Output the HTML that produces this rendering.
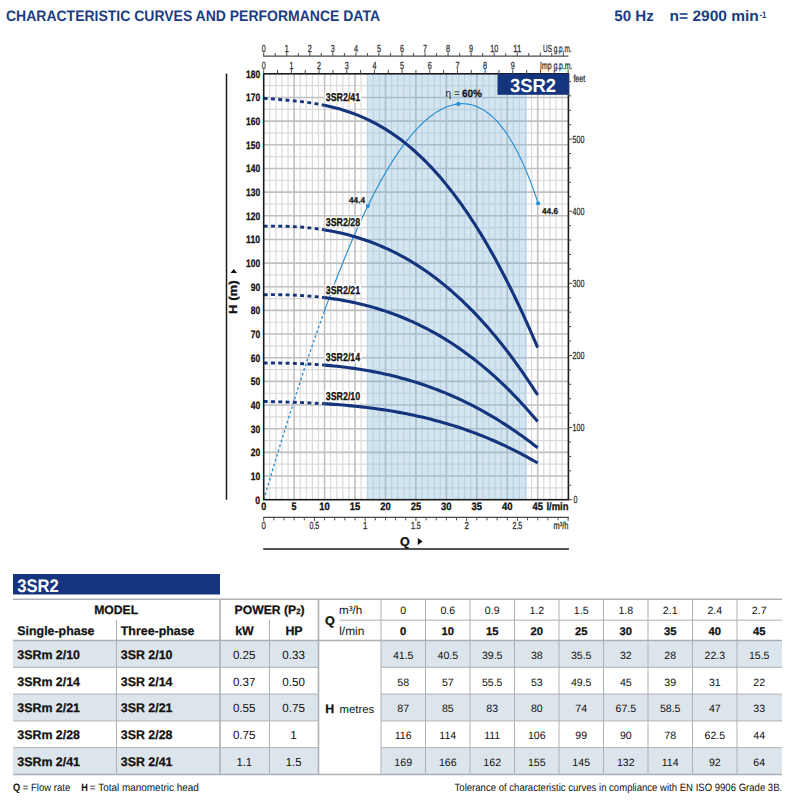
<!DOCTYPE html>
<html><head><meta charset="utf-8"><title>3SR2</title>
<style>html,body{margin:0;padding:0;background:#fff;width:800px;height:800px;overflow:hidden}</style></head>
<body>
<svg width="800" height="800" viewBox="0 0 800 800" style="position:absolute;left:0;top:0;font-family:'Liberation Sans',sans-serif;text-rendering:geometricPrecision">
<text x="6" y="21.3" font-size="15.1" font-weight="bold" fill="#1b3d80" textLength="374" lengthAdjust="spacingAndGlyphs">CHARACTERISTIC CURVES AND PERFORMANCE DATA</text>
<text x="614.3" y="21.3" font-size="15.1" font-weight="bold" fill="#1b3d80" textLength="39.5" lengthAdjust="spacingAndGlyphs">50 Hz</text>
<text x="669.6" y="21.3" font-size="15.1" font-weight="bold" fill="#1b3d80" textLength="89.2" lengthAdjust="spacingAndGlyphs">n= 2900 min</text>
<text transform="translate(759.4,18.1) scale(0.8,1)" font-size="9.6" font-weight="bold" fill="#1b3d80">-1</text>
<rect x="263.7" y="73.8" width="304.7" height="425.9" fill="#fff"/>
<rect x="367.21" y="73.8" width="159.53" height="425.9" fill="#d3e5f1"/>
<path d="M269.79,73.8V499.7M275.88,73.8V499.7M281.97,73.8V499.7M288.06,73.8V499.7M300.23,73.8V499.7M306.32,73.8V499.7M312.41,73.8V499.7M318.50,73.8V499.7M330.68,73.8V499.7M336.77,73.8V499.7M342.86,73.8V499.7M348.94,73.8V499.7M361.12,73.8V499.7M367.21,73.8V499.7M373.30,73.8V499.7M379.39,73.8V499.7M391.57,73.8V499.7M397.66,73.8V499.7M403.74,73.8V499.7M409.83,73.8V499.7M422.01,73.8V499.7M428.10,73.8V499.7M434.19,73.8V499.7M440.28,73.8V499.7M452.46,73.8V499.7M458.54,73.8V499.7M464.63,73.8V499.7M470.72,73.8V499.7M482.90,73.8V499.7M488.99,73.8V499.7M495.08,73.8V499.7M501.17,73.8V499.7M513.34,73.8V499.7M519.43,73.8V499.7M525.52,73.8V499.7M531.61,73.8V499.7M543.79,73.8V499.7M549.88,73.8V499.7M555.97,73.8V499.7M562.06,73.8V499.7M263.7,487.87H568.4M263.7,464.21H568.4M263.7,440.55H568.4M263.7,416.89H568.4M263.7,393.23H568.4M263.7,369.56H568.4M263.7,345.90H568.4M263.7,322.24H568.4M263.7,298.58H568.4M263.7,274.92H568.4M263.7,251.26H568.4M263.7,227.60H568.4M263.7,203.94H568.4M263.7,180.27H568.4M263.7,156.61H568.4M263.7,132.95H568.4M263.7,109.29H568.4M263.7,85.63H568.4" stroke="#dadada" stroke-width="1.2" fill="none"/>
<path d="M294.14,73.8V499.7M324.59,73.8V499.7M355.03,73.8V499.7M385.48,73.8V499.7M415.92,73.8V499.7M446.37,73.8V499.7M476.81,73.8V499.7M507.26,73.8V499.7M537.70,73.8V499.7M263.7,476.04H568.4M263.7,452.38H568.4M263.7,428.72H568.4M263.7,405.06H568.4M263.7,381.39H568.4M263.7,357.73H568.4M263.7,334.07H568.4M263.7,310.41H568.4M263.7,286.75H568.4M263.7,263.09H568.4M263.7,239.43H568.4M263.7,215.77H568.4M263.7,192.11H568.4M263.7,168.44H568.4M263.7,144.78H568.4M263.7,121.12H568.4M263.7,97.46H568.4" stroke="#c0c0c0" stroke-width="1.6" fill="none"/>
<clipPath id="shc"><rect x="367.21" y="73.8" width="159.53" height="425.9"/></clipPath>
<g clip-path="url(#shc)"><rect x="367.21" y="73.8" width="159.53" height="425.9" fill="#d3e5f1"/><path d="M269.79,73.8V499.7M275.88,73.8V499.7M281.97,73.8V499.7M288.06,73.8V499.7M300.23,73.8V499.7M306.32,73.8V499.7M312.41,73.8V499.7M318.50,73.8V499.7M330.68,73.8V499.7M336.77,73.8V499.7M342.86,73.8V499.7M348.94,73.8V499.7M361.12,73.8V499.7M367.21,73.8V499.7M373.30,73.8V499.7M379.39,73.8V499.7M391.57,73.8V499.7M397.66,73.8V499.7M403.74,73.8V499.7M409.83,73.8V499.7M422.01,73.8V499.7M428.10,73.8V499.7M434.19,73.8V499.7M440.28,73.8V499.7M452.46,73.8V499.7M458.54,73.8V499.7M464.63,73.8V499.7M470.72,73.8V499.7M482.90,73.8V499.7M488.99,73.8V499.7M495.08,73.8V499.7M501.17,73.8V499.7M513.34,73.8V499.7M519.43,73.8V499.7M525.52,73.8V499.7M531.61,73.8V499.7M543.79,73.8V499.7M549.88,73.8V499.7M555.97,73.8V499.7M562.06,73.8V499.7M263.7,487.87H568.4M263.7,464.21H568.4M263.7,440.55H568.4M263.7,416.89H568.4M263.7,393.23H568.4M263.7,369.56H568.4M263.7,345.90H568.4M263.7,322.24H568.4M263.7,298.58H568.4M263.7,274.92H568.4M263.7,251.26H568.4M263.7,227.60H568.4M263.7,203.94H568.4M263.7,180.27H568.4M263.7,156.61H568.4M263.7,132.95H568.4M263.7,109.29H568.4M263.7,85.63H568.4" stroke="#bed1de" stroke-width="1.2" fill="none"/><path d="M294.14,73.8V499.7M324.59,73.8V499.7M355.03,73.8V499.7M385.48,73.8V499.7M415.92,73.8V499.7M446.37,73.8V499.7M476.81,73.8V499.7M507.26,73.8V499.7M537.70,73.8V499.7M263.7,476.04H568.4M263.7,452.38H568.4M263.7,428.72H568.4M263.7,405.06H568.4M263.7,381.39H568.4M263.7,357.73H568.4M263.7,334.07H568.4M263.7,310.41H568.4M263.7,286.75H568.4M263.7,263.09H568.4M263.7,239.43H568.4M263.7,215.77H568.4M263.7,192.11H568.4M263.7,168.44H568.4M263.7,144.78H568.4M263.7,121.12H568.4M263.7,97.46H568.4" stroke="#a8bccb" stroke-width="1.6" fill="none"/></g>
<path d="M263.70,499.72 L265.24,494.55 L266.77,489.40 L268.31,484.27 L269.84,479.14 L271.38,474.04 L272.92,468.95 L274.45,463.87 L275.99,458.82 L277.52,453.78 L279.06,448.75 L280.59,443.75 L282.13,438.77 L283.67,433.80 L285.20,428.85 L286.74,423.93 L288.27,419.03 L289.81,414.14 L291.35,409.28 L292.88,404.45 L294.42,399.63 L295.95,394.84 L297.49,390.08 L299.03,385.34 L300.56,380.62 L302.10,375.93 L303.63,371.27 L305.17,366.63 L306.71,362.02 L308.24,357.44 L309.78,352.88 L311.31,348.36 L312.85,343.86 L314.38,339.40 L315.92,334.96 L317.46,330.56 L318.99,326.19 L320.53,321.85 L322.06,317.54 L323.60,313.26" fill="none" stroke="#2b8fd2" stroke-width="1.4" stroke-dasharray="2.6 2.4"/>
<path d="M323.60,313.26 L325.40,308.29 L327.21,303.36 L329.01,298.47 L330.81,293.64 L332.61,288.85 L334.42,284.12 L336.22,279.43 L338.02,274.79 L339.82,270.21 L341.63,265.67 L343.43,261.19 L345.23,256.77 L347.03,252.39 L348.84,248.07 L350.64,243.80 L352.44,239.59 L354.24,235.44 L356.05,231.34 L357.85,227.30 L359.65,223.31 L361.45,219.39 L363.26,215.52 L365.06,211.71 L366.86,207.96 L368.66,204.27 L370.47,200.63 L372.27,197.06 L374.07,193.55 L375.87,190.10 L377.68,186.72 L379.48,183.39 L381.28,180.13 L383.08,176.92 L384.89,173.79 L386.69,170.71 L388.49,167.70 L390.29,164.75 L392.10,161.87 L393.90,159.05 L395.70,156.30 L397.50,153.61 L399.31,150.99 L401.11,148.44 L402.91,145.95 L404.71,143.52 L406.52,141.17 L408.32,138.88 L410.12,136.66 L411.92,134.51 L413.73,132.42 L415.53,130.40 L417.33,128.46 L419.13,126.58 L420.94,124.77 L422.74,123.04 L424.54,121.37 L426.34,119.77 L428.15,118.25 L429.95,116.80 L431.75,115.42 L433.55,114.11 L435.36,112.88 L437.16,111.72 L438.96,110.64 L440.76,109.63 L442.57,108.70 L444.37,107.85 L446.17,107.07 L447.97,106.37 L449.78,105.75 L451.58,105.21 L453.38,104.75 L455.18,104.37 L456.99,104.07 L458.79,103.86 L460.59,103.73 L462.39,103.69 L464.20,103.73 L466.00,103.86 L467.80,104.08 L469.60,104.39 L471.41,104.80 L473.21,105.29 L475.01,105.88 L476.81,106.57 L478.62,107.35 L480.42,108.23 L482.22,109.22 L484.02,110.31 L485.83,111.50 L487.63,112.79 L489.43,114.20 L491.23,115.72 L493.04,117.35 L494.84,119.10 L496.64,120.96 L498.44,122.95 L500.25,125.05 L502.05,127.28 L503.85,129.65 L505.65,132.14 L507.46,134.76 L509.26,137.53 L511.06,140.43 L512.86,143.47 L514.67,146.67 L516.47,150.01 L518.27,153.51 L520.07,157.17 L521.88,160.99 L523.68,164.97 L525.48,169.12 L527.28,173.45 L529.09,177.96 L530.89,182.65 L532.69,187.53 L534.49,192.60 L536.30,197.87 L538.10,203.35" fill="none" stroke="#2b8fd2" stroke-width="1.15"/>
<circle cx="367.8" cy="206.025243675687" r="2.1" fill="#2b8fd2"/>
<circle cx="458.4" cy="103.89738231532486" r="2.1" fill="#2b8fd2"/>
<circle cx="538.1" cy="203.3487956735235" r="2.1" fill="#2b8fd2"/>
<path d="M263.70,401.50 L266.74,401.56 L269.79,401.63 L272.83,401.70 L275.88,401.77 L278.92,401.84 L281.97,401.92 L285.01,402.01 L288.06,402.10 L291.10,402.19 L294.14,402.30 L297.19,402.40 L300.23,402.52 L303.28,402.64 L306.32,402.77 L309.37,402.91 L312.41,403.05 L315.46,403.21 L318.50,403.37 L321.54,403.54 L324.59,403.72" fill="none" stroke="#14347e" stroke-width="2.9" stroke-dasharray="3.9 3.4"/>
<path d="M324.59,403.72 L327.63,403.92 L330.68,404.12 L333.72,404.34 L336.77,404.56 L339.81,404.80 L342.86,405.05 L345.90,405.32 L348.94,405.59 L351.99,405.88 L355.03,406.19 L358.08,406.50 L361.12,406.84 L364.17,407.18 L367.21,407.55 L370.26,407.93 L373.30,408.32 L376.34,408.73 L379.39,409.16 L382.43,409.60 L385.48,410.07 L388.52,410.55 L391.57,411.04 L394.61,411.56 L397.66,412.10 L400.70,412.65 L403.74,413.23 L406.79,413.82 L409.83,414.44 L412.88,415.07 L415.92,415.73 L418.97,416.41 L422.01,417.11 L425.06,417.83 L428.10,418.58 L431.14,419.34 L434.19,420.13 L437.23,420.95 L440.28,421.78 L443.32,422.65 L446.37,423.53 L449.41,424.44 L452.46,425.38 L455.50,426.34 L458.54,427.33 L461.59,428.34 L464.63,429.38 L467.68,430.44 L470.72,431.54 L473.77,432.66 L476.81,433.80 L479.86,434.98 L482.90,436.18 L485.94,437.41 L488.99,438.68 L492.03,439.97 L495.08,441.29 L498.12,442.64 L501.17,444.01 L504.21,445.42 L507.26,446.86 L510.30,448.34 L513.34,449.84 L516.39,451.37 L519.43,452.94 L522.48,454.54 L525.52,456.17 L528.57,457.83 L531.61,459.53 L534.66,461.25 L537.70,463.02" fill="none" stroke="#14347e" stroke-width="3.1" stroke-linejoin="round"/>
<rect x="324.6" y="390.7" width="36.8" height="10.4" fill="#fff"/>
<text x="325.8" y="399.7" font-size="11.3" font-weight="bold" fill="#111" stroke="#111" stroke-width="0.3" textLength="34.4" lengthAdjust="spacingAndGlyphs">3SR2/10</text>
<path d="M263.70,362.93 L266.74,362.94 L269.79,362.95 L272.83,362.97 L275.88,362.99 L278.92,363.03 L281.97,363.08 L285.01,363.14 L288.06,363.21 L291.10,363.29 L294.14,363.39 L297.19,363.49 L300.23,363.61 L303.28,363.75 L306.32,363.89 L309.37,364.06 L312.41,364.23 L315.46,364.43 L318.50,364.63 L321.54,364.86 L324.59,365.10" fill="none" stroke="#14347e" stroke-width="2.9" stroke-dasharray="3.9 3.4"/>
<path d="M324.59,365.10 L327.63,365.36 L330.68,365.64 L333.72,365.93 L336.77,366.24 L339.81,366.58 L342.86,366.93 L345.90,367.30 L348.94,367.69 L351.99,368.11 L355.03,368.54 L358.08,369.00 L361.12,369.47 L364.17,369.98 L367.21,370.50 L370.26,371.05 L373.30,371.62 L376.34,372.21 L379.39,372.83 L382.43,373.47 L385.48,374.14 L388.52,374.84 L391.57,375.56 L394.61,376.30 L397.66,377.08 L400.70,377.88 L403.74,378.71 L406.79,379.57 L409.83,380.45 L412.88,381.37 L415.92,382.31 L418.97,383.28 L422.01,384.28 L425.06,385.32 L428.10,386.38 L431.14,387.48 L434.19,388.60 L437.23,389.76 L440.28,390.95 L443.32,392.17 L446.37,393.42 L449.41,394.71 L452.46,396.03 L455.50,397.38 L458.54,398.77 L461.59,400.19 L464.63,401.65 L467.68,403.14 L470.72,404.67 L473.77,406.23 L476.81,407.83 L479.86,409.47 L482.90,411.14 L485.94,412.84 L488.99,414.59 L492.03,416.37 L495.08,418.19 L498.12,420.05 L501.17,421.95 L504.21,423.88 L507.26,425.86 L510.30,427.87 L513.34,429.92 L516.39,432.01 L519.43,434.15 L522.48,436.32 L525.52,438.53 L528.57,440.79 L531.61,443.08 L534.66,445.42 L537.70,447.79" fill="none" stroke="#14347e" stroke-width="3.1" stroke-linejoin="round"/>
<rect x="324.6" y="352.1" width="36.8" height="10.4" fill="#fff"/>
<text x="325.8" y="361.1" font-size="11.3" font-weight="bold" fill="#111" stroke="#111" stroke-width="0.3" textLength="34.4" lengthAdjust="spacingAndGlyphs">3SR2/14</text>
<path d="M263.70,294.72 L266.74,294.69 L269.79,294.67 L272.83,294.66 L275.88,294.67 L278.92,294.70 L281.97,294.75 L285.01,294.82 L288.06,294.90 L291.10,295.01 L294.14,295.13 L297.19,295.28 L300.23,295.45 L303.28,295.64 L306.32,295.85 L309.37,296.08 L312.41,296.34 L315.46,296.63 L318.50,296.93 L321.54,297.27 L324.59,297.63" fill="none" stroke="#14347e" stroke-width="2.9" stroke-dasharray="3.9 3.4"/>
<path d="M324.59,297.63 L327.63,298.01 L330.68,298.42 L333.72,298.86 L336.77,299.33 L339.81,299.83 L342.86,300.36 L345.90,300.91 L348.94,301.50 L351.99,302.12 L355.03,302.77 L358.08,303.45 L361.12,304.17 L364.17,304.92 L367.21,305.70 L370.26,306.52 L373.30,307.37 L376.34,308.26 L379.39,309.19 L382.43,310.15 L385.48,311.15 L388.52,312.18 L391.57,313.26 L394.61,314.38 L397.66,315.53 L400.70,316.73 L403.74,317.96 L406.79,319.24 L409.83,320.56 L412.88,321.92 L415.92,323.33 L418.97,324.78 L422.01,326.27 L425.06,327.81 L428.10,329.39 L431.14,331.02 L434.19,332.70 L437.23,334.42 L440.28,336.19 L443.32,338.01 L446.37,339.88 L449.41,341.80 L452.46,343.77 L455.50,345.79 L458.54,347.86 L461.59,349.98 L464.63,352.16 L467.68,354.39 L470.72,356.67 L473.77,359.00 L476.81,361.39 L479.86,363.84 L482.90,366.34 L485.94,368.90 L488.99,371.51 L492.03,374.18 L495.08,376.91 L498.12,379.70 L501.17,382.55 L504.21,385.46 L507.26,388.43 L510.30,391.46 L513.34,394.55 L516.39,397.70 L519.43,400.92 L522.48,404.19 L525.52,407.54 L528.57,410.95 L531.61,414.42 L534.66,417.96 L537.70,421.56" fill="none" stroke="#14347e" stroke-width="3.1" stroke-linejoin="round"/>
<rect x="324.6" y="284.6" width="36.8" height="10.4" fill="#fff"/>
<text x="325.8" y="293.6" font-size="11.3" font-weight="bold" fill="#111" stroke="#111" stroke-width="0.3" textLength="34.4" lengthAdjust="spacingAndGlyphs">3SR2/21</text>
<path d="M263.70,226.21 L266.74,226.16 L269.79,226.12 L272.83,226.10 L275.88,226.11 L278.92,226.14 L281.97,226.19 L285.01,226.27 L288.06,226.37 L291.10,226.50 L294.14,226.66 L297.19,226.85 L300.23,227.06 L303.28,227.31 L306.32,227.58 L309.37,227.89 L312.41,228.23 L315.46,228.60 L318.50,229.01 L321.54,229.45 L324.59,229.92" fill="none" stroke="#14347e" stroke-width="2.9" stroke-dasharray="3.9 3.4"/>
<path d="M324.59,229.92 L327.63,230.43 L330.68,230.98 L333.72,231.57 L336.77,232.19 L339.81,232.86 L342.86,233.56 L345.90,234.31 L348.94,235.09 L351.99,235.92 L355.03,236.79 L358.08,237.71 L361.12,238.67 L364.17,239.68 L367.21,240.73 L370.26,241.83 L373.30,242.97 L376.34,244.17 L379.39,245.41 L382.43,246.70 L385.48,248.05 L388.52,249.44 L391.57,250.89 L394.61,252.39 L397.66,253.94 L400.70,255.55 L403.74,257.21 L406.79,258.93 L409.83,260.71 L412.88,262.54 L415.92,264.43 L418.97,266.37 L422.01,268.38 L425.06,270.45 L428.10,272.57 L431.14,274.76 L434.19,277.01 L437.23,279.32 L440.28,281.70 L443.32,284.14 L446.37,286.64 L449.41,289.21 L452.46,291.85 L455.50,294.55 L458.54,297.32 L461.59,300.16 L464.63,303.06 L467.68,306.04 L470.72,309.08 L473.77,312.20 L476.81,315.38 L479.86,318.64 L482.90,321.97 L485.94,325.38 L488.99,328.85 L492.03,332.40 L495.08,336.03 L498.12,339.73 L501.17,343.51 L504.21,347.37 L507.26,351.30 L510.30,355.31 L513.34,359.40 L516.39,363.57 L519.43,367.82 L522.48,372.15 L525.52,376.56 L528.57,381.06 L531.61,385.63 L534.66,390.29 L537.70,395.03" fill="none" stroke="#14347e" stroke-width="3.1" stroke-linejoin="round"/>
<rect x="324.6" y="216.9" width="36.8" height="10.4" fill="#fff"/>
<text x="325.8" y="225.9" font-size="11.3" font-weight="bold" fill="#111" stroke="#111" stroke-width="0.3" textLength="34.4" lengthAdjust="spacingAndGlyphs">3SR2/28</text>
<path d="M263.70,98.28 L266.74,98.52 L269.79,98.75 L272.83,98.98 L275.88,99.22 L278.92,99.46 L281.97,99.70 L285.01,99.96 L288.06,100.23 L291.10,100.51 L294.14,100.82 L297.19,101.14 L300.23,101.48 L303.28,101.85 L306.32,102.25 L309.37,102.68 L312.41,103.14 L315.46,103.63 L318.50,104.16 L321.54,104.73 L324.59,105.34" fill="none" stroke="#14347e" stroke-width="2.9" stroke-dasharray="3.9 3.4"/>
<path d="M324.59,105.34 L327.63,105.99 L330.68,106.69 L333.72,107.43 L336.77,108.22 L339.81,109.07 L342.86,109.97 L345.90,110.92 L348.94,111.93 L351.99,113.00 L355.03,114.13 L358.08,115.33 L361.12,116.58 L364.17,117.91 L367.21,119.30 L370.26,120.77 L373.30,122.30 L376.34,123.91 L379.39,125.60 L382.43,127.36 L385.48,129.20 L388.52,131.12 L391.57,133.12 L394.61,135.20 L397.66,137.37 L400.70,139.62 L403.74,141.96 L406.79,144.39 L409.83,146.91 L412.88,149.52 L415.92,152.23 L418.97,155.03 L422.01,157.92 L425.06,160.91 L428.10,164.00 L431.14,167.18 L434.19,170.47 L437.23,173.85 L440.28,177.34 L443.32,180.93 L446.37,184.63 L449.41,188.43 L452.46,192.34 L455.50,196.35 L458.54,200.47 L461.59,204.70 L464.63,209.04 L467.68,213.49 L470.72,218.05 L473.77,222.72 L476.81,227.51 L479.86,232.41 L482.90,237.42 L485.94,242.55 L488.99,247.79 L492.03,253.14 L495.08,258.62 L498.12,264.21 L501.17,269.91 L504.21,275.74 L507.26,281.68 L510.30,287.74 L513.34,293.92 L516.39,300.22 L519.43,306.63 L522.48,313.17 L525.52,319.83 L528.57,326.60 L531.61,333.50 L534.66,340.52 L537.70,347.66" fill="none" stroke="#14347e" stroke-width="3.1" stroke-linejoin="round"/>
<rect x="324.6" y="92.3" width="36.8" height="10.4" fill="#fff"/>
<text x="325.8" y="101.3" font-size="11.3" font-weight="bold" fill="#111" stroke="#111" stroke-width="0.3" textLength="34.4" lengthAdjust="spacingAndGlyphs">3SR2/41</text>
<rect x="263.7" y="73.8" width="304.7" height="425.9" fill="none" stroke="#1a1a1a" stroke-width="1.6"/>
<rect x="497.5" y="73.8" width="71.69999999999997" height="21" fill="#14347e"/>
<text x="533" y="91.5" font-size="19" font-weight="bold" fill="#fff" text-anchor="middle" textLength="46" lengthAdjust="spacingAndGlyphs">3SR2</text>
<text x="445.6" y="97" font-size="11.3" fill="#222" textLength="14.2" lengthAdjust="spacingAndGlyphs">η =</text>
<text x="462" y="97" font-size="10.5" font-weight="bold" fill="#151515" stroke="#151515" stroke-width="0.25" textLength="20" lengthAdjust="spacingAndGlyphs">60%</text>
<text x="349" y="203.4" font-size="8.5" font-weight="bold" fill="#151515" stroke="#151515" stroke-width="0.25" textLength="16" lengthAdjust="spacingAndGlyphs">44.4</text>
<text x="542" y="214.2" font-size="8.5" font-weight="bold" fill="#151515" stroke="#151515" stroke-width="0.25" textLength="16" lengthAdjust="spacingAndGlyphs">44.6</text>
<text x="255.3" y="503.5" font-size="10.8" font-weight="bold" fill="#111" stroke="#111" stroke-width="0.3" textLength="4.8" lengthAdjust="spacingAndGlyphs">0</text>
<text x="250.70000000000002" y="479.8" font-size="10.8" font-weight="bold" fill="#111" stroke="#111" stroke-width="0.3" textLength="9.4" lengthAdjust="spacingAndGlyphs">10</text>
<text x="250.70000000000002" y="456.2" font-size="10.8" font-weight="bold" fill="#111" stroke="#111" stroke-width="0.3" textLength="9.4" lengthAdjust="spacingAndGlyphs">20</text>
<text x="250.70000000000002" y="432.5" font-size="10.8" font-weight="bold" fill="#111" stroke="#111" stroke-width="0.3" textLength="9.4" lengthAdjust="spacingAndGlyphs">30</text>
<text x="250.70000000000002" y="408.9" font-size="10.8" font-weight="bold" fill="#111" stroke="#111" stroke-width="0.3" textLength="9.4" lengthAdjust="spacingAndGlyphs">40</text>
<text x="250.70000000000002" y="385.2" font-size="10.8" font-weight="bold" fill="#111" stroke="#111" stroke-width="0.3" textLength="9.4" lengthAdjust="spacingAndGlyphs">50</text>
<text x="250.70000000000002" y="361.5" font-size="10.8" font-weight="bold" fill="#111" stroke="#111" stroke-width="0.3" textLength="9.4" lengthAdjust="spacingAndGlyphs">60</text>
<text x="250.70000000000002" y="337.9" font-size="10.8" font-weight="bold" fill="#111" stroke="#111" stroke-width="0.3" textLength="9.4" lengthAdjust="spacingAndGlyphs">70</text>
<text x="250.70000000000002" y="314.2" font-size="10.8" font-weight="bold" fill="#111" stroke="#111" stroke-width="0.3" textLength="9.4" lengthAdjust="spacingAndGlyphs">80</text>
<text x="250.70000000000002" y="290.6" font-size="10.8" font-weight="bold" fill="#111" stroke="#111" stroke-width="0.3" textLength="9.4" lengthAdjust="spacingAndGlyphs">90</text>
<text x="246.10000000000002" y="266.9" font-size="10.8" font-weight="bold" fill="#111" stroke="#111" stroke-width="0.3" textLength="14.0" lengthAdjust="spacingAndGlyphs">100</text>
<text x="246.10000000000002" y="243.2" font-size="10.8" font-weight="bold" fill="#111" stroke="#111" stroke-width="0.3" textLength="14.0" lengthAdjust="spacingAndGlyphs">110</text>
<text x="246.10000000000002" y="219.6" font-size="10.8" font-weight="bold" fill="#111" stroke="#111" stroke-width="0.3" textLength="14.0" lengthAdjust="spacingAndGlyphs">120</text>
<text x="246.10000000000002" y="195.9" font-size="10.8" font-weight="bold" fill="#111" stroke="#111" stroke-width="0.3" textLength="14.0" lengthAdjust="spacingAndGlyphs">130</text>
<text x="246.10000000000002" y="172.2" font-size="10.8" font-weight="bold" fill="#111" stroke="#111" stroke-width="0.3" textLength="14.0" lengthAdjust="spacingAndGlyphs">140</text>
<text x="246.10000000000002" y="148.6" font-size="10.8" font-weight="bold" fill="#111" stroke="#111" stroke-width="0.3" textLength="14.0" lengthAdjust="spacingAndGlyphs">150</text>
<text x="246.10000000000002" y="124.9" font-size="10.8" font-weight="bold" fill="#111" stroke="#111" stroke-width="0.3" textLength="14.0" lengthAdjust="spacingAndGlyphs">160</text>
<text x="246.10000000000002" y="101.3" font-size="10.8" font-weight="bold" fill="#111" stroke="#111" stroke-width="0.3" textLength="14.0" lengthAdjust="spacingAndGlyphs">170</text>
<text x="246.10000000000002" y="77.6" font-size="10.8" font-weight="bold" fill="#111" stroke="#111" stroke-width="0.3" textLength="14.0" lengthAdjust="spacingAndGlyphs">180</text>
<text x="261.2" y="510" font-size="10.8" font-weight="bold" fill="#111" stroke="#111" stroke-width="0.3" textLength="5" lengthAdjust="spacingAndGlyphs">0</text>
<text x="291.6" y="510" font-size="10.8" font-weight="bold" fill="#111" stroke="#111" stroke-width="0.3" textLength="5" lengthAdjust="spacingAndGlyphs">5</text>
<text x="319.3" y="510" font-size="10.8" font-weight="bold" fill="#111" stroke="#111" stroke-width="0.3" textLength="10.5" lengthAdjust="spacingAndGlyphs">10</text>
<text x="349.8" y="510" font-size="10.8" font-weight="bold" fill="#111" stroke="#111" stroke-width="0.3" textLength="10.5" lengthAdjust="spacingAndGlyphs">15</text>
<text x="380.2" y="510" font-size="10.8" font-weight="bold" fill="#111" stroke="#111" stroke-width="0.3" textLength="10.5" lengthAdjust="spacingAndGlyphs">20</text>
<text x="410.7" y="510" font-size="10.8" font-weight="bold" fill="#111" stroke="#111" stroke-width="0.3" textLength="10.5" lengthAdjust="spacingAndGlyphs">25</text>
<text x="441.1" y="510" font-size="10.8" font-weight="bold" fill="#111" stroke="#111" stroke-width="0.3" textLength="10.5" lengthAdjust="spacingAndGlyphs">30</text>
<text x="471.6" y="510" font-size="10.8" font-weight="bold" fill="#111" stroke="#111" stroke-width="0.3" textLength="10.5" lengthAdjust="spacingAndGlyphs">35</text>
<text x="502.0" y="510" font-size="10.8" font-weight="bold" fill="#111" stroke="#111" stroke-width="0.3" textLength="10.5" lengthAdjust="spacingAndGlyphs">40</text>
<text x="532.5" y="510" font-size="10.8" font-weight="bold" fill="#111" stroke="#111" stroke-width="0.3" textLength="10.5" lengthAdjust="spacingAndGlyphs">45</text>
<text x="546.5" y="510" font-size="10.8" font-weight="bold" fill="#111" stroke="#111" stroke-width="0.3" textLength="22" lengthAdjust="spacingAndGlyphs">l/min</text>
<line x1="263.2" y1="56.1" x2="568.4" y2="56.1" stroke="#4a4a4a" stroke-width="1.25"/>
<line x1="263.70" y1="56.1" x2="263.70" y2="52.5" stroke="#4a4a4a" stroke-width="1"/>
<text x="261.7" y="51.8" font-size="10.3" fill="#2e2e2e" stroke="#2e2e2e" stroke-width="0.28" textLength="4" lengthAdjust="spacingAndGlyphs">0</text>
<line x1="275.22" y1="56.1" x2="275.22" y2="53.0" stroke="#4a4a4a" stroke-width="1"/>
<line x1="286.75" y1="56.1" x2="286.75" y2="52.5" stroke="#4a4a4a" stroke-width="1"/>
<text x="284.7" y="51.8" font-size="10.3" fill="#2e2e2e" stroke="#2e2e2e" stroke-width="0.28" textLength="4" lengthAdjust="spacingAndGlyphs">1</text>
<line x1="298.27" y1="56.1" x2="298.27" y2="53.0" stroke="#4a4a4a" stroke-width="1"/>
<line x1="309.79" y1="56.1" x2="309.79" y2="52.5" stroke="#4a4a4a" stroke-width="1"/>
<text x="307.8" y="51.8" font-size="10.3" fill="#2e2e2e" stroke="#2e2e2e" stroke-width="0.28" textLength="4" lengthAdjust="spacingAndGlyphs">2</text>
<line x1="321.32" y1="56.1" x2="321.32" y2="53.0" stroke="#4a4a4a" stroke-width="1"/>
<line x1="332.84" y1="56.1" x2="332.84" y2="52.5" stroke="#4a4a4a" stroke-width="1"/>
<text x="330.8" y="51.8" font-size="10.3" fill="#2e2e2e" stroke="#2e2e2e" stroke-width="0.28" textLength="4" lengthAdjust="spacingAndGlyphs">3</text>
<line x1="344.36" y1="56.1" x2="344.36" y2="53.0" stroke="#4a4a4a" stroke-width="1"/>
<line x1="355.89" y1="56.1" x2="355.89" y2="52.5" stroke="#4a4a4a" stroke-width="1"/>
<text x="353.9" y="51.8" font-size="10.3" fill="#2e2e2e" stroke="#2e2e2e" stroke-width="0.28" textLength="4" lengthAdjust="spacingAndGlyphs">4</text>
<line x1="367.41" y1="56.1" x2="367.41" y2="53.0" stroke="#4a4a4a" stroke-width="1"/>
<line x1="378.93" y1="56.1" x2="378.93" y2="52.5" stroke="#4a4a4a" stroke-width="1"/>
<text x="376.9" y="51.8" font-size="10.3" fill="#2e2e2e" stroke="#2e2e2e" stroke-width="0.28" textLength="4" lengthAdjust="spacingAndGlyphs">5</text>
<line x1="390.46" y1="56.1" x2="390.46" y2="53.0" stroke="#4a4a4a" stroke-width="1"/>
<line x1="401.98" y1="56.1" x2="401.98" y2="52.5" stroke="#4a4a4a" stroke-width="1"/>
<text x="400.0" y="51.8" font-size="10.3" fill="#2e2e2e" stroke="#2e2e2e" stroke-width="0.28" textLength="4" lengthAdjust="spacingAndGlyphs">6</text>
<line x1="413.50" y1="56.1" x2="413.50" y2="53.0" stroke="#4a4a4a" stroke-width="1"/>
<line x1="425.03" y1="56.1" x2="425.03" y2="52.5" stroke="#4a4a4a" stroke-width="1"/>
<text x="423.0" y="51.8" font-size="10.3" fill="#2e2e2e" stroke="#2e2e2e" stroke-width="0.28" textLength="4" lengthAdjust="spacingAndGlyphs">7</text>
<line x1="436.55" y1="56.1" x2="436.55" y2="53.0" stroke="#4a4a4a" stroke-width="1"/>
<line x1="448.07" y1="56.1" x2="448.07" y2="52.5" stroke="#4a4a4a" stroke-width="1"/>
<text x="446.1" y="51.8" font-size="10.3" fill="#2e2e2e" stroke="#2e2e2e" stroke-width="0.28" textLength="4" lengthAdjust="spacingAndGlyphs">8</text>
<line x1="459.59" y1="56.1" x2="459.59" y2="53.0" stroke="#4a4a4a" stroke-width="1"/>
<line x1="471.12" y1="56.1" x2="471.12" y2="52.5" stroke="#4a4a4a" stroke-width="1"/>
<text x="469.1" y="51.8" font-size="10.3" fill="#2e2e2e" stroke="#2e2e2e" stroke-width="0.28" textLength="4" lengthAdjust="spacingAndGlyphs">9</text>
<line x1="482.64" y1="56.1" x2="482.64" y2="53.0" stroke="#4a4a4a" stroke-width="1"/>
<line x1="494.16" y1="56.1" x2="494.16" y2="52.5" stroke="#4a4a4a" stroke-width="1"/>
<text x="490.2" y="51.8" font-size="10.3" fill="#2e2e2e" stroke="#2e2e2e" stroke-width="0.28" textLength="8" lengthAdjust="spacingAndGlyphs">10</text>
<line x1="505.69" y1="56.1" x2="505.69" y2="53.0" stroke="#4a4a4a" stroke-width="1"/>
<line x1="517.21" y1="56.1" x2="517.21" y2="52.5" stroke="#4a4a4a" stroke-width="1"/>
<text x="513.2" y="51.8" font-size="10.3" fill="#2e2e2e" stroke="#2e2e2e" stroke-width="0.28" textLength="8" lengthAdjust="spacingAndGlyphs">11</text>
<line x1="528.73" y1="56.1" x2="528.73" y2="53.0" stroke="#4a4a4a" stroke-width="1"/>
<line x1="540.26" y1="56.1" x2="540.26" y2="52.5" stroke="#4a4a4a" stroke-width="1"/>
<line x1="551.78" y1="56.1" x2="551.78" y2="53.0" stroke="#4a4a4a" stroke-width="1"/>
<line x1="563.30" y1="56.1" x2="563.30" y2="52.5" stroke="#4a4a4a" stroke-width="1"/>
<text x="543" y="51.8" font-size="10.3" fill="#2e2e2e" stroke="#2e2e2e" stroke-width="0.28" textLength="28.5" lengthAdjust="spacingAndGlyphs">US g.p.m.</text>
<line x1="263.70" y1="73.8" x2="263.70" y2="69.4" stroke="#4a4a4a" stroke-width="1"/>
<text x="261.7" y="69.1" font-size="10.3" fill="#2e2e2e" stroke="#2e2e2e" stroke-width="0.28" textLength="4" lengthAdjust="spacingAndGlyphs">0</text>
<line x1="277.54" y1="73.8" x2="277.54" y2="69.9" stroke="#4a4a4a" stroke-width="1"/>
<line x1="291.38" y1="73.8" x2="291.38" y2="69.4" stroke="#4a4a4a" stroke-width="1"/>
<text x="289.4" y="69.1" font-size="10.3" fill="#2e2e2e" stroke="#2e2e2e" stroke-width="0.28" textLength="4" lengthAdjust="spacingAndGlyphs">1</text>
<line x1="305.22" y1="73.8" x2="305.22" y2="69.9" stroke="#4a4a4a" stroke-width="1"/>
<line x1="319.06" y1="73.8" x2="319.06" y2="69.4" stroke="#4a4a4a" stroke-width="1"/>
<text x="317.1" y="69.1" font-size="10.3" fill="#2e2e2e" stroke="#2e2e2e" stroke-width="0.28" textLength="4" lengthAdjust="spacingAndGlyphs">2</text>
<line x1="332.90" y1="73.8" x2="332.90" y2="69.9" stroke="#4a4a4a" stroke-width="1"/>
<line x1="346.74" y1="73.8" x2="346.74" y2="69.4" stroke="#4a4a4a" stroke-width="1"/>
<text x="344.7" y="69.1" font-size="10.3" fill="#2e2e2e" stroke="#2e2e2e" stroke-width="0.28" textLength="4" lengthAdjust="spacingAndGlyphs">3</text>
<line x1="360.58" y1="73.8" x2="360.58" y2="69.9" stroke="#4a4a4a" stroke-width="1"/>
<line x1="374.42" y1="73.8" x2="374.42" y2="69.4" stroke="#4a4a4a" stroke-width="1"/>
<text x="372.4" y="69.1" font-size="10.3" fill="#2e2e2e" stroke="#2e2e2e" stroke-width="0.28" textLength="4" lengthAdjust="spacingAndGlyphs">4</text>
<line x1="388.26" y1="73.8" x2="388.26" y2="69.9" stroke="#4a4a4a" stroke-width="1"/>
<line x1="402.10" y1="73.8" x2="402.10" y2="69.4" stroke="#4a4a4a" stroke-width="1"/>
<text x="400.1" y="69.1" font-size="10.3" fill="#2e2e2e" stroke="#2e2e2e" stroke-width="0.28" textLength="4" lengthAdjust="spacingAndGlyphs">5</text>
<line x1="415.94" y1="73.8" x2="415.94" y2="69.9" stroke="#4a4a4a" stroke-width="1"/>
<line x1="429.78" y1="73.8" x2="429.78" y2="69.4" stroke="#4a4a4a" stroke-width="1"/>
<text x="427.8" y="69.1" font-size="10.3" fill="#2e2e2e" stroke="#2e2e2e" stroke-width="0.28" textLength="4" lengthAdjust="spacingAndGlyphs">6</text>
<line x1="443.62" y1="73.8" x2="443.62" y2="69.9" stroke="#4a4a4a" stroke-width="1"/>
<line x1="457.46" y1="73.8" x2="457.46" y2="69.4" stroke="#4a4a4a" stroke-width="1"/>
<text x="455.5" y="69.1" font-size="10.3" fill="#2e2e2e" stroke="#2e2e2e" stroke-width="0.28" textLength="4" lengthAdjust="spacingAndGlyphs">7</text>
<line x1="471.30" y1="73.8" x2="471.30" y2="69.9" stroke="#4a4a4a" stroke-width="1"/>
<line x1="485.14" y1="73.8" x2="485.14" y2="69.4" stroke="#4a4a4a" stroke-width="1"/>
<text x="483.1" y="69.1" font-size="10.3" fill="#2e2e2e" stroke="#2e2e2e" stroke-width="0.28" textLength="4" lengthAdjust="spacingAndGlyphs">8</text>
<line x1="498.98" y1="73.8" x2="498.98" y2="69.9" stroke="#4a4a4a" stroke-width="1"/>
<line x1="512.82" y1="73.8" x2="512.82" y2="69.4" stroke="#4a4a4a" stroke-width="1"/>
<text x="510.8" y="69.1" font-size="10.3" fill="#2e2e2e" stroke="#2e2e2e" stroke-width="0.28" textLength="4" lengthAdjust="spacingAndGlyphs">9</text>
<line x1="526.66" y1="73.8" x2="526.66" y2="69.9" stroke="#4a4a4a" stroke-width="1"/>
<line x1="540.50" y1="73.8" x2="540.50" y2="69.4" stroke="#4a4a4a" stroke-width="1"/>
<line x1="554.34" y1="73.8" x2="554.34" y2="69.9" stroke="#4a4a4a" stroke-width="1"/>
<line x1="568.18" y1="73.8" x2="568.18" y2="69.4" stroke="#4a4a4a" stroke-width="1"/>
<text x="540" y="69.1" font-size="10.3" fill="#2e2e2e" stroke="#2e2e2e" stroke-width="0.28" textLength="32.5" lengthAdjust="spacingAndGlyphs">Imp g.p.m.</text>
<line x1="568.4" y1="499.70" x2="572.1999999999999" y2="499.70" stroke="#4a4a4a" stroke-width="1"/>
<text x="573.5" y="503.3" font-size="10.3" fill="#2e2e2e" stroke="#2e2e2e" stroke-width="0.28" textLength="4" lengthAdjust="spacingAndGlyphs">0</text>
<line x1="568.4" y1="485.28" x2="571.1999999999999" y2="485.28" stroke="#4a4a4a" stroke-width="1"/>
<line x1="568.4" y1="470.85" x2="571.1999999999999" y2="470.85" stroke="#4a4a4a" stroke-width="1"/>
<line x1="568.4" y1="456.43" x2="571.1999999999999" y2="456.43" stroke="#4a4a4a" stroke-width="1"/>
<line x1="568.4" y1="442.00" x2="571.1999999999999" y2="442.00" stroke="#4a4a4a" stroke-width="1"/>
<line x1="568.4" y1="427.58" x2="572.1999999999999" y2="427.58" stroke="#4a4a4a" stroke-width="1"/>
<text x="572.6" y="431.2" font-size="10.3" fill="#2e2e2e" stroke="#2e2e2e" stroke-width="0.28" textLength="12" lengthAdjust="spacingAndGlyphs">100</text>
<line x1="568.4" y1="413.16" x2="571.1999999999999" y2="413.16" stroke="#4a4a4a" stroke-width="1"/>
<line x1="568.4" y1="398.73" x2="571.1999999999999" y2="398.73" stroke="#4a4a4a" stroke-width="1"/>
<line x1="568.4" y1="384.31" x2="571.1999999999999" y2="384.31" stroke="#4a4a4a" stroke-width="1"/>
<line x1="568.4" y1="369.89" x2="571.1999999999999" y2="369.89" stroke="#4a4a4a" stroke-width="1"/>
<line x1="568.4" y1="355.46" x2="572.1999999999999" y2="355.46" stroke="#4a4a4a" stroke-width="1"/>
<text x="572.6" y="359.1" font-size="10.3" fill="#2e2e2e" stroke="#2e2e2e" stroke-width="0.28" textLength="12" lengthAdjust="spacingAndGlyphs">200</text>
<line x1="568.4" y1="341.04" x2="571.1999999999999" y2="341.04" stroke="#4a4a4a" stroke-width="1"/>
<line x1="568.4" y1="326.61" x2="571.1999999999999" y2="326.61" stroke="#4a4a4a" stroke-width="1"/>
<line x1="568.4" y1="312.19" x2="571.1999999999999" y2="312.19" stroke="#4a4a4a" stroke-width="1"/>
<line x1="568.4" y1="297.77" x2="571.1999999999999" y2="297.77" stroke="#4a4a4a" stroke-width="1"/>
<line x1="568.4" y1="283.34" x2="572.1999999999999" y2="283.34" stroke="#4a4a4a" stroke-width="1"/>
<text x="572.6" y="286.9" font-size="10.3" fill="#2e2e2e" stroke="#2e2e2e" stroke-width="0.28" textLength="12" lengthAdjust="spacingAndGlyphs">300</text>
<line x1="568.4" y1="268.92" x2="571.1999999999999" y2="268.92" stroke="#4a4a4a" stroke-width="1"/>
<line x1="568.4" y1="254.50" x2="571.1999999999999" y2="254.50" stroke="#4a4a4a" stroke-width="1"/>
<line x1="568.4" y1="240.07" x2="571.1999999999999" y2="240.07" stroke="#4a4a4a" stroke-width="1"/>
<line x1="568.4" y1="225.65" x2="571.1999999999999" y2="225.65" stroke="#4a4a4a" stroke-width="1"/>
<line x1="568.4" y1="211.22" x2="572.1999999999999" y2="211.22" stroke="#4a4a4a" stroke-width="1"/>
<text x="572.6" y="214.8" font-size="10.3" fill="#2e2e2e" stroke="#2e2e2e" stroke-width="0.28" textLength="12" lengthAdjust="spacingAndGlyphs">400</text>
<line x1="568.4" y1="196.80" x2="571.1999999999999" y2="196.80" stroke="#4a4a4a" stroke-width="1"/>
<line x1="568.4" y1="182.38" x2="571.1999999999999" y2="182.38" stroke="#4a4a4a" stroke-width="1"/>
<line x1="568.4" y1="167.95" x2="571.1999999999999" y2="167.95" stroke="#4a4a4a" stroke-width="1"/>
<line x1="568.4" y1="153.53" x2="571.1999999999999" y2="153.53" stroke="#4a4a4a" stroke-width="1"/>
<line x1="568.4" y1="139.10" x2="572.1999999999999" y2="139.10" stroke="#4a4a4a" stroke-width="1"/>
<text x="572.6" y="142.7" font-size="10.3" fill="#2e2e2e" stroke="#2e2e2e" stroke-width="0.28" textLength="12" lengthAdjust="spacingAndGlyphs">500</text>
<line x1="568.4" y1="124.68" x2="571.1999999999999" y2="124.68" stroke="#4a4a4a" stroke-width="1"/>
<line x1="568.4" y1="110.26" x2="571.1999999999999" y2="110.26" stroke="#4a4a4a" stroke-width="1"/>
<line x1="568.4" y1="95.83" x2="571.1999999999999" y2="95.83" stroke="#4a4a4a" stroke-width="1"/>
<line x1="568.4" y1="81.41" x2="571.1999999999999" y2="81.41" stroke="#4a4a4a" stroke-width="1"/>
<text x="573.4" y="81.5" font-size="10.3" fill="#2e2e2e" stroke="#2e2e2e" stroke-width="0.28" textLength="11.8" lengthAdjust="spacingAndGlyphs">feet</text>
<line x1="263.2" y1="517.3" x2="568.9" y2="517.3" stroke="#4a4a4a" stroke-width="1.25"/>
<line x1="263.70" y1="517.3" x2="263.70" y2="520.9" stroke="#4a4a4a" stroke-width="1"/>
<text x="261.5" y="529.3" font-size="10.3" fill="#2e2e2e" stroke="#2e2e2e" stroke-width="0.28" textLength="4.4" lengthAdjust="spacingAndGlyphs">0</text>
<line x1="273.85" y1="517.3" x2="273.85" y2="520.3" stroke="#4a4a4a" stroke-width="1"/>
<line x1="284.00" y1="517.3" x2="284.00" y2="520.3" stroke="#4a4a4a" stroke-width="1"/>
<line x1="294.14" y1="517.3" x2="294.14" y2="520.3" stroke="#4a4a4a" stroke-width="1"/>
<line x1="304.29" y1="517.3" x2="304.29" y2="520.3" stroke="#4a4a4a" stroke-width="1"/>
<line x1="314.44" y1="517.3" x2="314.44" y2="520.9" stroke="#4a4a4a" stroke-width="1"/>
<text x="309.5" y="529.3" font-size="10.3" fill="#2e2e2e" stroke="#2e2e2e" stroke-width="0.28" textLength="9.8" lengthAdjust="spacingAndGlyphs">0.5</text>
<line x1="324.59" y1="517.3" x2="324.59" y2="520.3" stroke="#4a4a4a" stroke-width="1"/>
<line x1="334.74" y1="517.3" x2="334.74" y2="520.3" stroke="#4a4a4a" stroke-width="1"/>
<line x1="344.89" y1="517.3" x2="344.89" y2="520.3" stroke="#4a4a4a" stroke-width="1"/>
<line x1="355.03" y1="517.3" x2="355.03" y2="520.3" stroke="#4a4a4a" stroke-width="1"/>
<line x1="365.18" y1="517.3" x2="365.18" y2="520.9" stroke="#4a4a4a" stroke-width="1"/>
<text x="363.0" y="529.3" font-size="10.3" fill="#2e2e2e" stroke="#2e2e2e" stroke-width="0.28" textLength="4.4" lengthAdjust="spacingAndGlyphs">1</text>
<line x1="375.33" y1="517.3" x2="375.33" y2="520.3" stroke="#4a4a4a" stroke-width="1"/>
<line x1="385.48" y1="517.3" x2="385.48" y2="520.3" stroke="#4a4a4a" stroke-width="1"/>
<line x1="395.63" y1="517.3" x2="395.63" y2="520.3" stroke="#4a4a4a" stroke-width="1"/>
<line x1="405.77" y1="517.3" x2="405.77" y2="520.3" stroke="#4a4a4a" stroke-width="1"/>
<line x1="415.92" y1="517.3" x2="415.92" y2="520.9" stroke="#4a4a4a" stroke-width="1"/>
<text x="411.0" y="529.3" font-size="10.3" fill="#2e2e2e" stroke="#2e2e2e" stroke-width="0.28" textLength="9.8" lengthAdjust="spacingAndGlyphs">1.5</text>
<line x1="426.07" y1="517.3" x2="426.07" y2="520.3" stroke="#4a4a4a" stroke-width="1"/>
<line x1="436.22" y1="517.3" x2="436.22" y2="520.3" stroke="#4a4a4a" stroke-width="1"/>
<line x1="446.37" y1="517.3" x2="446.37" y2="520.3" stroke="#4a4a4a" stroke-width="1"/>
<line x1="456.51" y1="517.3" x2="456.51" y2="520.3" stroke="#4a4a4a" stroke-width="1"/>
<line x1="466.66" y1="517.3" x2="466.66" y2="520.9" stroke="#4a4a4a" stroke-width="1"/>
<text x="464.5" y="529.3" font-size="10.3" fill="#2e2e2e" stroke="#2e2e2e" stroke-width="0.28" textLength="4.4" lengthAdjust="spacingAndGlyphs">2</text>
<line x1="476.81" y1="517.3" x2="476.81" y2="520.3" stroke="#4a4a4a" stroke-width="1"/>
<line x1="486.96" y1="517.3" x2="486.96" y2="520.3" stroke="#4a4a4a" stroke-width="1"/>
<line x1="497.11" y1="517.3" x2="497.11" y2="520.3" stroke="#4a4a4a" stroke-width="1"/>
<line x1="507.26" y1="517.3" x2="507.26" y2="520.3" stroke="#4a4a4a" stroke-width="1"/>
<line x1="517.40" y1="517.3" x2="517.40" y2="520.9" stroke="#4a4a4a" stroke-width="1"/>
<text x="512.5" y="529.3" font-size="10.3" fill="#2e2e2e" stroke="#2e2e2e" stroke-width="0.28" textLength="9.8" lengthAdjust="spacingAndGlyphs">2.5</text>
<line x1="527.55" y1="517.3" x2="527.55" y2="520.3" stroke="#4a4a4a" stroke-width="1"/>
<line x1="537.70" y1="517.3" x2="537.70" y2="520.3" stroke="#4a4a4a" stroke-width="1"/>
<line x1="547.85" y1="517.3" x2="547.85" y2="520.3" stroke="#4a4a4a" stroke-width="1"/>
<line x1="558.00" y1="517.3" x2="558.00" y2="520.3" stroke="#4a4a4a" stroke-width="1"/>
<line x1="568.14" y1="517.3" x2="568.14" y2="520.9" stroke="#4a4a4a" stroke-width="1"/>
<text x="553.5" y="529.3" font-size="10.3" fill="#2e2e2e" stroke="#2e2e2e" stroke-width="0.28" textLength="15" lengthAdjust="spacingAndGlyphs">m³/h</text>
<line x1="226.5" y1="73.4" x2="226.5" y2="499.8" stroke="#1a1a1a" stroke-width="1.5"/>
<line x1="263.2" y1="549" x2="568.9" y2="549" stroke="#1a1a1a" stroke-width="1.5"/>
<text transform="translate(236.9,314) rotate(-90)" font-size="11.5" font-weight="bold" fill="#111" stroke="#111" stroke-width="0.3" textLength="33.6" lengthAdjust="spacingAndGlyphs">H (m)</text>
<path d="M230.5,273 L237,273 L233.75,269 Z" fill="#111"/>
<text x="400" y="545.5" font-size="12.5" font-weight="bold" fill="#111" stroke="#111" stroke-width="0.3">Q</text>
<path d="M417.8,537.9 L417.8,545.1 L422.6,541.5 Z" fill="#111"/>
<rect x="13" y="574" width="207" height="20.5" fill="#14347e"/>
<text x="17.3" y="591.7" font-size="18.1" font-weight="bold" fill="#fff" textLength="41.4" lengthAdjust="spacingAndGlyphs">3SR2</text>
<rect x="13" y="640.5" width="305" height="26.799999999999955" fill="#dde5ec"/>
<rect x="381" y="640.5" width="401" height="26.799999999999955" fill="#dde5ec"/>
<rect x="13" y="694.1" width="305" height="26.799999999999955" fill="#dde5ec"/>
<rect x="381" y="694.1" width="401" height="26.799999999999955" fill="#dde5ec"/>
<rect x="13" y="747.7" width="305" height="26.799999999999955" fill="#dde5ec"/>
<rect x="381" y="747.7" width="401" height="26.799999999999955" fill="#dde5ec"/>
<line x1="13" y1="599.3" x2="782" y2="599.3" stroke="#adb1b5" stroke-width="1.6"/>
<line x1="13" y1="640.5" x2="782" y2="640.5" stroke="#adb1b5" stroke-width="1.6"/>
<line x1="13" y1="774.5" x2="782" y2="774.5" stroke="#adb1b5" stroke-width="1.6"/>
<line x1="13" y1="667.3" x2="318" y2="667.3" stroke="#adb1b5" stroke-width="1"/>
<line x1="381" y1="667.3" x2="782" y2="667.3" stroke="#adb1b5" stroke-width="1"/>
<line x1="13" y1="694.1" x2="318" y2="694.1" stroke="#adb1b5" stroke-width="1"/>
<line x1="381" y1="694.1" x2="782" y2="694.1" stroke="#adb1b5" stroke-width="1"/>
<line x1="13" y1="720.9" x2="318" y2="720.9" stroke="#adb1b5" stroke-width="1"/>
<line x1="381" y1="720.9" x2="782" y2="720.9" stroke="#adb1b5" stroke-width="1"/>
<line x1="13" y1="747.7" x2="318" y2="747.7" stroke="#adb1b5" stroke-width="1"/>
<line x1="381" y1="747.7" x2="782" y2="747.7" stroke="#adb1b5" stroke-width="1"/>
<line x1="339.5" y1="620.2" x2="782" y2="620.2" stroke="#adb1b5" stroke-width="1"/>
<line x1="116.5" y1="620" x2="116.5" y2="774.5" stroke="#adb1b5" stroke-width="1"/>
<line x1="220" y1="599.3" x2="220" y2="774.5" stroke="#adb1b5" stroke-width="1.6"/>
<line x1="269.5" y1="620" x2="269.5" y2="774.5" stroke="#adb1b5" stroke-width="1"/>
<line x1="318.5" y1="599.3" x2="318.5" y2="774.5" stroke="#adb1b5" stroke-width="1.6"/>
<line x1="381.0" y1="599.3" x2="381.0" y2="774.5" stroke="#adb1b5" stroke-width="1"/>
<line x1="425.5" y1="599.3" x2="425.5" y2="774.5" stroke="#adb1b5" stroke-width="1"/>
<line x1="470.0" y1="599.3" x2="470.0" y2="774.5" stroke="#adb1b5" stroke-width="1"/>
<line x1="514.5" y1="599.3" x2="514.5" y2="774.5" stroke="#adb1b5" stroke-width="1"/>
<line x1="559.0" y1="599.3" x2="559.0" y2="774.5" stroke="#adb1b5" stroke-width="1"/>
<line x1="603.5" y1="599.3" x2="603.5" y2="774.5" stroke="#adb1b5" stroke-width="1"/>
<line x1="648.0" y1="599.3" x2="648.0" y2="774.5" stroke="#adb1b5" stroke-width="1"/>
<line x1="692.5" y1="599.3" x2="692.5" y2="774.5" stroke="#adb1b5" stroke-width="1"/>
<line x1="737.0" y1="599.3" x2="737.0" y2="774.5" stroke="#adb1b5" stroke-width="1"/>
<text x="116.2" y="614.4" font-size="12.2" font-weight="bold" stroke="#111" stroke-width="0.25" fill="#111" text-anchor="middle">MODEL</text>
<text x="17.3" y="635.2" font-size="12.4" font-weight="bold" stroke="#111" stroke-width="0.25" fill="#111" text-anchor="start">Single-phase</text>
<text x="120.8" y="635.2" font-size="12.4" font-weight="bold" stroke="#111" stroke-width="0.25" fill="#111" text-anchor="start">Three-phase</text>
<text x="234.6" y="614.3" font-size="12.2" font-weight="bold" stroke="#111" stroke-width="0.25" fill="#111">POWER (P<tspan font-size="7.8">2</tspan>)</text>
<text x="244.5" y="635.2" font-size="12.4" font-weight="bold" stroke="#111" stroke-width="0.25" fill="#111" text-anchor="middle">kW</text>
<text x="294" y="635.2" font-size="12.4" font-weight="bold" stroke="#111" stroke-width="0.25" fill="#111" text-anchor="middle">HP</text>
<text x="325" y="625.4" font-size="12.6" font-weight="bold" stroke="#111" stroke-width="0.25" fill="#111" text-anchor="start">Q</text>
<text x="339.0" y="614.2" font-size="11.6" fill="#111" text-anchor="start">m³/h</text>
<text x="339.2" y="634.6" font-size="11.9" fill="#111" text-anchor="start">l/min</text>
<text x="325.3" y="712.6" font-size="12.4" font-weight="bold" stroke="#111" stroke-width="0.25" fill="#111" text-anchor="start">H</text>
<text x="339.6" y="712.6" font-size="11.3" fill="#111" text-anchor="start">metres</text>
<text x="403.2" y="614.2" font-size="10.6" fill="#111" text-anchor="middle">0</text>
<text x="403.2" y="635.1" font-size="11.2" font-weight="bold" stroke="#111" stroke-width="0.25" fill="#111" text-anchor="middle">0</text>
<text x="447.8" y="614.2" font-size="10.6" fill="#111" text-anchor="middle">0.6</text>
<text x="447.8" y="635.1" font-size="11.2" font-weight="bold" stroke="#111" stroke-width="0.25" fill="#111" text-anchor="middle">10</text>
<text x="492.2" y="614.2" font-size="10.6" fill="#111" text-anchor="middle">0.9</text>
<text x="492.2" y="635.1" font-size="11.2" font-weight="bold" stroke="#111" stroke-width="0.25" fill="#111" text-anchor="middle">15</text>
<text x="536.8" y="614.2" font-size="10.6" fill="#111" text-anchor="middle">1.2</text>
<text x="536.8" y="635.1" font-size="11.2" font-weight="bold" stroke="#111" stroke-width="0.25" fill="#111" text-anchor="middle">20</text>
<text x="581.2" y="614.2" font-size="10.6" fill="#111" text-anchor="middle">1.5</text>
<text x="581.2" y="635.1" font-size="11.2" font-weight="bold" stroke="#111" stroke-width="0.25" fill="#111" text-anchor="middle">25</text>
<text x="625.8" y="614.2" font-size="10.6" fill="#111" text-anchor="middle">1.8</text>
<text x="625.8" y="635.1" font-size="11.2" font-weight="bold" stroke="#111" stroke-width="0.25" fill="#111" text-anchor="middle">30</text>
<text x="670.2" y="614.2" font-size="10.6" fill="#111" text-anchor="middle">2.1</text>
<text x="670.2" y="635.1" font-size="11.2" font-weight="bold" stroke="#111" stroke-width="0.25" fill="#111" text-anchor="middle">35</text>
<text x="714.8" y="614.2" font-size="10.6" fill="#111" text-anchor="middle">2.4</text>
<text x="714.8" y="635.1" font-size="11.2" font-weight="bold" stroke="#111" stroke-width="0.25" fill="#111" text-anchor="middle">40</text>
<text x="759.2" y="614.2" font-size="10.6" fill="#111" text-anchor="middle">2.7</text>
<text x="759.2" y="635.1" font-size="11.2" font-weight="bold" stroke="#111" stroke-width="0.25" fill="#111" text-anchor="middle">45</text>
<text x="17.3" y="658.8" font-size="12.4" font-weight="bold" stroke="#111" stroke-width="0.25" fill="#111" text-anchor="start">3SRm 2/10</text>
<text x="120.8" y="658.8" font-size="12.4" font-weight="bold" stroke="#111" stroke-width="0.25" fill="#111" text-anchor="start">3SR 2/10</text>
<text x="244.2" y="658.8" font-size="11.8" fill="#111" text-anchor="middle" textLength="22.6" lengthAdjust="spacingAndGlyphs">0.25</text>
<text x="293.6" y="658.8" font-size="11.8" fill="#111" text-anchor="middle" textLength="22.6" lengthAdjust="spacingAndGlyphs">0.33</text>
<text x="403.2" y="658.8" font-size="10.6" fill="#111" text-anchor="middle">41.5</text>
<text x="447.8" y="658.8" font-size="10.6" fill="#111" text-anchor="middle">40.5</text>
<text x="492.2" y="658.8" font-size="10.6" fill="#111" text-anchor="middle">39.5</text>
<text x="536.8" y="658.8" font-size="10.6" fill="#111" text-anchor="middle">38</text>
<text x="581.2" y="658.8" font-size="10.6" fill="#111" text-anchor="middle">35.5</text>
<text x="625.8" y="658.8" font-size="10.6" fill="#111" text-anchor="middle">32</text>
<text x="670.2" y="658.8" font-size="10.6" fill="#111" text-anchor="middle">28</text>
<text x="714.8" y="658.8" font-size="10.6" fill="#111" text-anchor="middle">22.3</text>
<text x="759.2" y="658.8" font-size="10.6" fill="#111" text-anchor="middle">15.5</text>
<text x="17.3" y="685.6" font-size="12.4" font-weight="bold" stroke="#111" stroke-width="0.25" fill="#111" text-anchor="start">3SRm 2/14</text>
<text x="120.8" y="685.6" font-size="12.4" font-weight="bold" stroke="#111" stroke-width="0.25" fill="#111" text-anchor="start">3SR 2/14</text>
<text x="244.2" y="685.6" font-size="11.8" fill="#111" text-anchor="middle" textLength="22.6" lengthAdjust="spacingAndGlyphs">0.37</text>
<text x="293.6" y="685.6" font-size="11.8" fill="#111" text-anchor="middle" textLength="22.6" lengthAdjust="spacingAndGlyphs">0.50</text>
<text x="403.2" y="685.6" font-size="10.6" fill="#111" text-anchor="middle">58</text>
<text x="447.8" y="685.6" font-size="10.6" fill="#111" text-anchor="middle">57</text>
<text x="492.2" y="685.6" font-size="10.6" fill="#111" text-anchor="middle">55.5</text>
<text x="536.8" y="685.6" font-size="10.6" fill="#111" text-anchor="middle">53</text>
<text x="581.2" y="685.6" font-size="10.6" fill="#111" text-anchor="middle">49.5</text>
<text x="625.8" y="685.6" font-size="10.6" fill="#111" text-anchor="middle">45</text>
<text x="670.2" y="685.6" font-size="10.6" fill="#111" text-anchor="middle">39</text>
<text x="714.8" y="685.6" font-size="10.6" fill="#111" text-anchor="middle">31</text>
<text x="759.2" y="685.6" font-size="10.6" fill="#111" text-anchor="middle">22</text>
<text x="17.3" y="712.4" font-size="12.4" font-weight="bold" stroke="#111" stroke-width="0.25" fill="#111" text-anchor="start">3SRm 2/21</text>
<text x="120.8" y="712.4" font-size="12.4" font-weight="bold" stroke="#111" stroke-width="0.25" fill="#111" text-anchor="start">3SR 2/21</text>
<text x="244.2" y="712.4" font-size="11.8" fill="#111" text-anchor="middle" textLength="22.6" lengthAdjust="spacingAndGlyphs">0.55</text>
<text x="293.6" y="712.4" font-size="11.8" fill="#111" text-anchor="middle" textLength="22.6" lengthAdjust="spacingAndGlyphs">0.75</text>
<text x="403.2" y="712.4" font-size="10.6" fill="#111" text-anchor="middle">87</text>
<text x="447.8" y="712.4" font-size="10.6" fill="#111" text-anchor="middle">85</text>
<text x="492.2" y="712.4" font-size="10.6" fill="#111" text-anchor="middle">83</text>
<text x="536.8" y="712.4" font-size="10.6" fill="#111" text-anchor="middle">80</text>
<text x="581.2" y="712.4" font-size="10.6" fill="#111" text-anchor="middle">74</text>
<text x="625.8" y="712.4" font-size="10.6" fill="#111" text-anchor="middle">67.5</text>
<text x="670.2" y="712.4" font-size="10.6" fill="#111" text-anchor="middle">58.5</text>
<text x="714.8" y="712.4" font-size="10.6" fill="#111" text-anchor="middle">47</text>
<text x="759.2" y="712.4" font-size="10.6" fill="#111" text-anchor="middle">33</text>
<text x="17.3" y="739.2" font-size="12.4" font-weight="bold" stroke="#111" stroke-width="0.25" fill="#111" text-anchor="start">3SRm 2/28</text>
<text x="120.8" y="739.2" font-size="12.4" font-weight="bold" stroke="#111" stroke-width="0.25" fill="#111" text-anchor="start">3SR 2/28</text>
<text x="244.2" y="739.2" font-size="11.8" fill="#111" text-anchor="middle" textLength="22.6" lengthAdjust="spacingAndGlyphs">0.75</text>
<text x="293.6" y="739.2" font-size="11.8" fill="#111" text-anchor="middle">1</text>
<text x="403.2" y="739.2" font-size="10.6" fill="#111" text-anchor="middle">116</text>
<text x="447.8" y="739.2" font-size="10.6" fill="#111" text-anchor="middle">114</text>
<text x="492.2" y="739.2" font-size="10.6" fill="#111" text-anchor="middle">111</text>
<text x="536.8" y="739.2" font-size="10.6" fill="#111" text-anchor="middle">106</text>
<text x="581.2" y="739.2" font-size="10.6" fill="#111" text-anchor="middle">99</text>
<text x="625.8" y="739.2" font-size="10.6" fill="#111" text-anchor="middle">90</text>
<text x="670.2" y="739.2" font-size="10.6" fill="#111" text-anchor="middle">78</text>
<text x="714.8" y="739.2" font-size="10.6" fill="#111" text-anchor="middle">62.5</text>
<text x="759.2" y="739.2" font-size="10.6" fill="#111" text-anchor="middle">44</text>
<text x="17.3" y="766.0" font-size="12.4" font-weight="bold" stroke="#111" stroke-width="0.25" fill="#111" text-anchor="start">3SRm 2/41</text>
<text x="120.8" y="766.0" font-size="12.4" font-weight="bold" stroke="#111" stroke-width="0.25" fill="#111" text-anchor="start">3SR 2/41</text>
<text x="244.2" y="766.0" font-size="11.8" fill="#111" text-anchor="middle" textLength="15.6" lengthAdjust="spacingAndGlyphs">1.1</text>
<text x="293.6" y="766.0" font-size="11.8" fill="#111" text-anchor="middle" textLength="15.6" lengthAdjust="spacingAndGlyphs">1.5</text>
<text x="403.2" y="766.0" font-size="10.6" fill="#111" text-anchor="middle">169</text>
<text x="447.8" y="766.0" font-size="10.6" fill="#111" text-anchor="middle">166</text>
<text x="492.2" y="766.0" font-size="10.6" fill="#111" text-anchor="middle">162</text>
<text x="536.8" y="766.0" font-size="10.6" fill="#111" text-anchor="middle">155</text>
<text x="581.2" y="766.0" font-size="10.6" fill="#111" text-anchor="middle">145</text>
<text x="625.8" y="766.0" font-size="10.6" fill="#111" text-anchor="middle">132</text>
<text x="670.2" y="766.0" font-size="10.6" fill="#111" text-anchor="middle">114</text>
<text x="714.8" y="766.0" font-size="10.6" fill="#111" text-anchor="middle">92</text>
<text x="759.2" y="766.0" font-size="10.6" fill="#111" text-anchor="middle">64</text>
<text x="13" y="791.3" font-size="10.6" font-weight="bold" fill="#111" textLength="7.2" lengthAdjust="spacingAndGlyphs">Q</text>
<text x="22.8" y="791.3" font-size="10.6" fill="#111" textLength="47.4" lengthAdjust="spacingAndGlyphs">= Flow rate</text>
<text x="81.2" y="791.3" font-size="10.6" font-weight="bold" fill="#111" textLength="6.6" lengthAdjust="spacingAndGlyphs">H</text>
<text x="89.8" y="791.3" font-size="10.6" fill="#111" textLength="109" lengthAdjust="spacingAndGlyphs">= Total manometric head</text>
<text x="454.6" y="791.3" font-size="10.6" fill="#111" textLength="327.6" lengthAdjust="spacingAndGlyphs">Tolerance of characteristic curves in compliance with EN ISO 9906 Grade 3B.</text>
</svg>
</body></html>
